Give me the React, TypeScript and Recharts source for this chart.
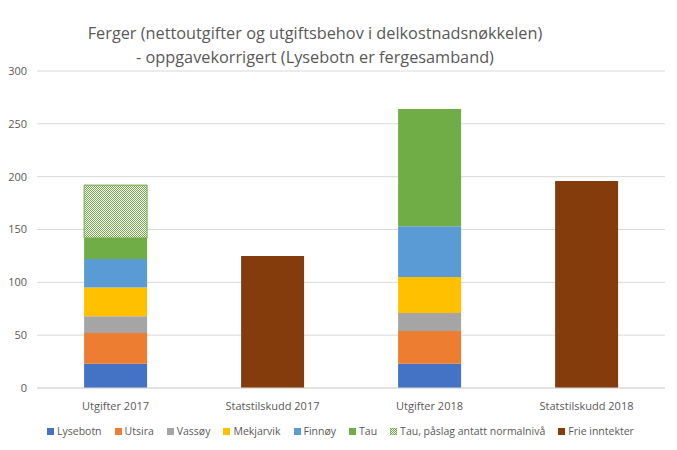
import React from 'react';
import { BarChart, Bar, XAxis, YAxis, CartesianGrid } from 'recharts';

const categories = ['Utgifter 2017', 'Statstilskudd 2017', 'Utgifter 2018', 'Statstilskudd 2018'];
const lysebotn = [23, 0, 23, 0];
const utsira = [29, 0, 31, 0];
const vassoy = [16, 0, 17, 0];
const mekjarvik = [27, 0, 34, 0];
const finnoy = [27, 0, 48, 0];
const tau = [20, 0, 111, 0];
const tauPaslag = [50, 0, 0, 0];
const frieInntekter = [0, 125, 0, 196];
const yTicks = [0, 50, 100, 150, 200, 250, 300];

const series = [
  { key: 'lysebotn', name: 'Lysebotn', values: lysebotn, color: '#4472C4' },
  { key: 'utsira', name: 'Utsira', values: utsira, color: '#ED7D31' },
  { key: 'vassoy', name: 'Vassøy', values: vassoy, color: '#A5A5A5' },
  { key: 'mekjarvik', name: 'Mekjarvik', values: mekjarvik, color: '#FFC000' },
  { key: 'finnoy', name: 'Finnøy', values: finnoy, color: '#5B9BD5' },
  { key: 'tau', name: 'Tau', values: tau, color: '#70AD47' },
  { key: 'tauPaslag', name: 'Tau, påslag antatt normalnivå', values: tauPaslag, color: '#70AD47', hatch: true },
  { key: 'frie', name: 'Frie inntekter', values: frieInntekter, color: '#843C0C' },
];

const data = categories.map((c, i) => {
  const row: any = { category: c };
  series.forEach((s) => { row[s.key] = s.values[i]; });
  return row;
});

const FONT = '"Open Sans", "Noto Sans", sans-serif';
const TEXT = '#595959';

export default function App() {
  return (
    <div style={{ position: 'absolute', left: 0, top: 0, width: 677, height: 450, background: '#fff', fontFamily: FONT }}>
      <div style={{ position: 'absolute', left: 0, width: 630, top: 21, textAlign: 'center', fontSize: 16.3, lineHeight: '24px', color: TEXT }}>
        Ferger (nettoutgifter og utgiftsbehov i delkostnadsnøkkelen)<br />- oppgavekorrigert (Lysebotn er fergesamband)
      </div>
      <BarChart width={677} height={450} data={data} margin={{ top: 71, right: 12, left: 0, bottom: 32 }} barCategoryGap="30%">
        <defs>
          <pattern id="hatch" width="2" height="2" patternUnits="userSpaceOnUse">
            <rect width="2" height="2" fill="#ffffff" />
            <rect x="0" y="0" width="1" height="1" fill="#70AD47" />
            <rect x="1" y="1" width="1" height="1" fill="#70AD47" />
          </pattern>
        </defs>
        <CartesianGrid vertical={false} stroke="#d9d9d9" />
        <XAxis dataKey="category" height={30} tickLine={false} axisLine={{ stroke: '#d9d9d9' }} tick={{ fill: TEXT, fontSize: 11, fontFamily: FONT }} tickMargin={8} />
        <YAxis width={37} domain={[0, 300]} ticks={yTicks} tickLine={false} axisLine={false} tickSize={0} tickMargin={10} tick={{ fill: TEXT, fontSize: 11, fontFamily: FONT }} />
        {series.map((s) => (
          <Bar key={s.key} dataKey={s.key} name={s.name} stackId="a" isAnimationActive={false}
            fill={s.hatch ? 'url(#hatch)' : s.color}
            stroke={s.hatch ? s.color : undefined} strokeWidth={s.hatch ? 1 : 0} />
        ))}
      </BarChart>
      <div style={{ position: 'absolute', top: 424, left: 47, display: 'flex', alignItems: 'center', fontSize: 10.5, color: TEXT, whiteSpace: 'nowrap' }}>
        {series.map((s) => (
          <div key={s.key} style={{ display: 'flex', alignItems: 'center', marginRight: 13 }}>
            <svg width={7} height={7} style={{ marginRight: 3 }}>
              <rect x={0} y={0} width={7} height={7} fill={s.hatch ? 'url(#hatch)' : s.color} stroke={s.hatch ? s.color : 'none'} strokeWidth={s.hatch ? 1 : 0} />
            </svg>
            <span>{s.name}</span>
          </div>
        ))}
      </div>
    </div>
  );
}
